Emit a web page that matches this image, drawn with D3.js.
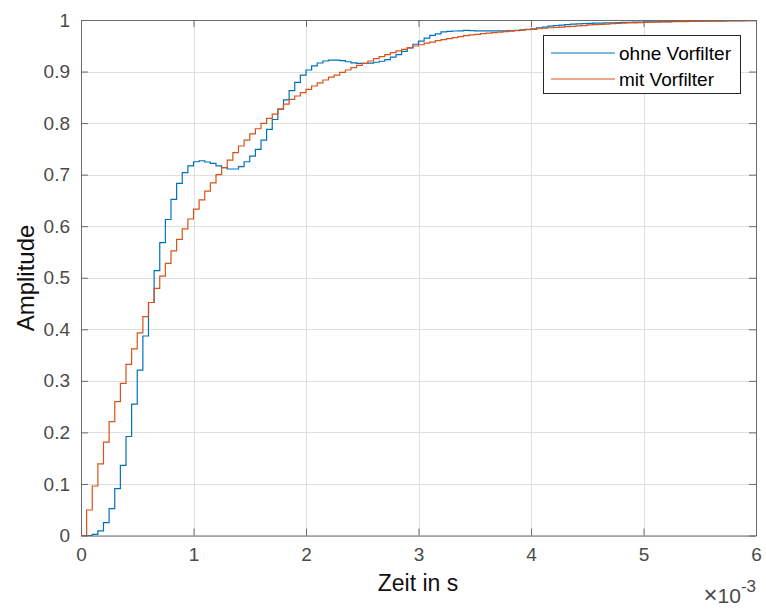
<!DOCTYPE html>
<html>
<head>
<meta charset="utf-8">
<script src="https://cdn.jsdelivr.net/npm/d3@7"></script>
<style>
  html, body { margin: 0; padding: 0; background: #ffffff; }
  svg { display: block; font-family: "Liberation Sans", Arial, Helvetica, sans-serif; }
</style>
</head>
<body>
<svg id="chart" width="766" height="610"></svg>
<script>
// Sample time of the discrete step response (seconds)
const sampleTime = 5e-5;

// Step response without prefilter, one value per sample k = 0..120
const ohneVorfilter = [
  0, 0, 0.002, 0.009, 0.025, 0.052, 0.091, 0.136, 0.192, 0.255,
  0.321, 0.387, 0.452, 0.514, 0.568, 0.613, 0.652, 0.683, 0.704, 0.717,
  0.725, 0.727, 0.7245, 0.722, 0.717, 0.7135, 0.711, 0.711, 0.7155, 0.725,
  0.736, 0.749, 0.767, 0.788, 0.807, 0.827, 0.845, 0.863, 0.879, 0.893,
  0.903, 0.911, 0.9166, 0.9205, 0.922, 0.922, 0.921, 0.919, 0.917, 0.916,
  0.916, 0.9165, 0.918, 0.920, 0.923, 0.928, 0.933, 0.939, 0.946, 0.953,
  0.959, 0.965, 0.970, 0.973, 0.977, 0.978, 0.9787, 0.979, 0.980, 0.9795,
  0.979, 0.979, 0.979, 0.979, 0.979, 0.979, 0.9795, 0.980, 0.981, 0.982,
  0.983, 0.985, 0.986, 0.988, 0.989, 0.990, 0.991, 0.992, 0.9925, 0.993,
  0.9935, 0.994, 0.994, 0.9943, 0.9945, 0.995, 0.9953, 0.9956, 0.9958, 0.996,
  0.9962, 0.9964, 0.9966, 0.9968, 0.997, 0.9972, 0.9974, 0.9975, 0.9977, 0.9978,
  0.998, 0.9981, 0.9982, 0.9983, 0.9984, 0.9985, 0.9986, 0.9987, 0.9988, 0.9989,
  0.999
];

// Step response with prefilter, k = 0..120
const mitVorfilter = [
  0, 0.0495, 0.096, 0.139, 0.181, 0.221, 0.2596, 0.295, 0.332, 0.362,
  0.393, 0.4245, 0.452, 0.4795, 0.503, 0.528, 0.552, 0.5745, 0.595, 0.614,
  0.633, 0.651, 0.668, 0.684, 0.700, 0.7135, 0.728, 0.7426, 0.7556, 0.767,
  0.779, 0.789, 0.7996, 0.809, 0.8176, 0.827, 0.837, 0.846, 0.8526, 0.859,
  0.8656, 0.872, 0.878, 0.8836, 0.889, 0.893, 0.8985, 0.903, 0.9075, 0.912,
  0.916, 0.9205, 0.925, 0.929, 0.933, 0.9366, 0.940, 0.943, 0.946, 0.9496,
  0.952, 0.955, 0.957, 0.960, 0.962, 0.964, 0.9657, 0.9676, 0.9696, 0.971,
  0.972, 0.9735, 0.9745, 0.9755, 0.9765, 0.9775, 0.9785, 0.9795, 0.9805, 0.9815,
  0.982, 0.983, 0.984, 0.985, 0.9855, 0.9863, 0.987, 0.9878, 0.9885, 0.989,
  0.9905, 0.991, 0.9915, 0.992, 0.993, 0.9935, 0.994, 0.9943, 0.9946, 0.995,
  0.9953, 0.9956, 0.9959, 0.9962, 0.9964, 0.9966, 0.9968, 0.997, 0.9972, 0.9974,
  0.9976, 0.9977, 0.9979, 0.998, 0.9981, 0.9982, 0.9983, 0.9984, 0.9985, 0.9986,
  0.9987
];

const seriesNames = ["ohne Vorfilter", "mit Vorfilter"];
const seriesColors = ["#0072BD", "#D95319"];

// Tick values (x in units of 10^-3 s, y amplitude)
const xTicks = [0, 1, 2, 3, 4, 5, 6];
const yTicks = [0, 0.1, 0.2, 0.3, 0.4, 0.5, 0.6, 0.7, 0.8, 0.9, 1];

const svg = d3.select("#chart");
const plotLeft = 81, plotRight = 756, plotTop = 20, plotBottom = 535.5;

const x = d3.scaleLinear().domain([0, 6]).range([plotLeft, plotRight]);
const y = d3.scaleLinear().domain([0, 1]).range([plotBottom, plotTop]);

const axisColor = "#6b6b6b";
const labelColor = "#4a4a4a";
const gridColor = "#dfdfdf";

// grid
const grid = svg.append("g");
grid.selectAll("line.gx").data(xTicks).join("line")
  .attr("x1", d => Math.round(x(d)) + 0.5).attr("x2", d => Math.round(x(d)) + 0.5)
  .attr("y1", plotTop).attr("y2", plotBottom)
  .attr("stroke", gridColor).attr("stroke-width", 1);
grid.selectAll("line.gy").data(yTicks).join("line")
  .attr("y1", d => Math.round(y(d)) + 0.5).attr("y2", d => Math.round(y(d)) + 0.5)
  .attr("x1", plotLeft).attr("x2", plotRight)
  .attr("stroke", gridColor).attr("stroke-width", 1);

// curves
const toPoints = vals => vals.map((v, k) => [k * sampleTime * 1000, v]);
const line = d3.line().x(d => x(d[0])).y(d => y(d[1])).curve(d3.curveStepAfter);
[ohneVorfilter, mitVorfilter].forEach((vals, i) => {
  svg.append("path").datum(toPoints(vals))
    .attr("d", line).attr("fill", "none")
    .attr("stroke", seriesColors[i]).attr("stroke-width", 1.2);
});

// axes with inward ticks on all four sides
const tickLen = 7;
const bottomAxis = d3.axisBottom(x).tickValues(xTicks).tickSizeInner(-tickLen).tickSizeOuter(0).tickPadding(12).tickFormat(d3.format("d"));
const topAxis = d3.axisTop(x).tickValues(xTicks).tickSizeInner(-tickLen).tickSizeOuter(0).tickFormat("");
const leftAxis = d3.axisLeft(y).tickValues(yTicks).tickSizeInner(-tickLen).tickSizeOuter(0).tickPadding(11).tickFormat(d => d === 0 || d === 1 ? d3.format("d")(d) : d3.format(".1f")(d));
const rightAxis = d3.axisRight(y).tickValues(yTicks).tickSizeInner(-tickLen).tickSizeOuter(0).tickFormat("");

function styleAxis(g) {
  g.select(".domain").attr("stroke", axisColor);
  g.selectAll(".tick line").attr("stroke", axisColor);
  g.selectAll(".tick text").attr("fill", labelColor)
    .style("font-size", "19px").style("font-family", "'Liberation Sans', Arial, sans-serif");
}
svg.append("g").attr("transform", `translate(0,${plotBottom})`).call(bottomAxis).call(styleAxis);
svg.append("g").attr("transform", `translate(0,${plotTop})`).call(topAxis).call(styleAxis);
svg.append("g").attr("transform", `translate(${plotLeft},0)`).call(leftAxis).call(styleAxis);
svg.append("g").attr("transform", `translate(${plotRight},0)`).call(rightAxis).call(styleAxis);

// exponent label
const expo = svg.append("text").attr("x", 756).attr("y", 603)
  .attr("text-anchor", "end").attr("fill", labelColor).style("font-size", "21px");
expo.append("tspan").style("font-size", "24px").text("\u00d7");
expo.append("tspan").text("10");
expo.append("tspan").attr("dy", -11).style("font-size", "17px").text("-3");

// axis titles
svg.append("text").attr("x", 418).attr("y", 591)
  .attr("text-anchor", "middle").attr("fill", "#111").style("font-size", "23px")
  .text("Zeit in s");
svg.append("text").attr("transform", `translate(34,278) rotate(-90)`)
  .attr("text-anchor", "middle").attr("fill", "#111").style("font-size", "24px")
  .text("Amplitude");

// legend
const lg = svg.append("g");
lg.append("rect").attr("x", 543.5).attr("y", 35.5).attr("width", 197).attr("height", 58)
  .attr("fill", "#fff").attr("stroke", "#262626").attr("stroke-width", 1);
seriesNames.forEach((name, i) => {
  const yy = 53 + i * 26;
  lg.append("line").attr("x1", 551).attr("x2", 615).attr("y1", yy).attr("y2", yy)
    .attr("stroke", seriesColors[i]).attr("stroke-width", 1.2);
  lg.append("text").attr("x", 619).attr("y", yy + 7).attr("fill", "#000")
    .style("font-size", "19px").text(name);
});
</script>
</body>
</html>
